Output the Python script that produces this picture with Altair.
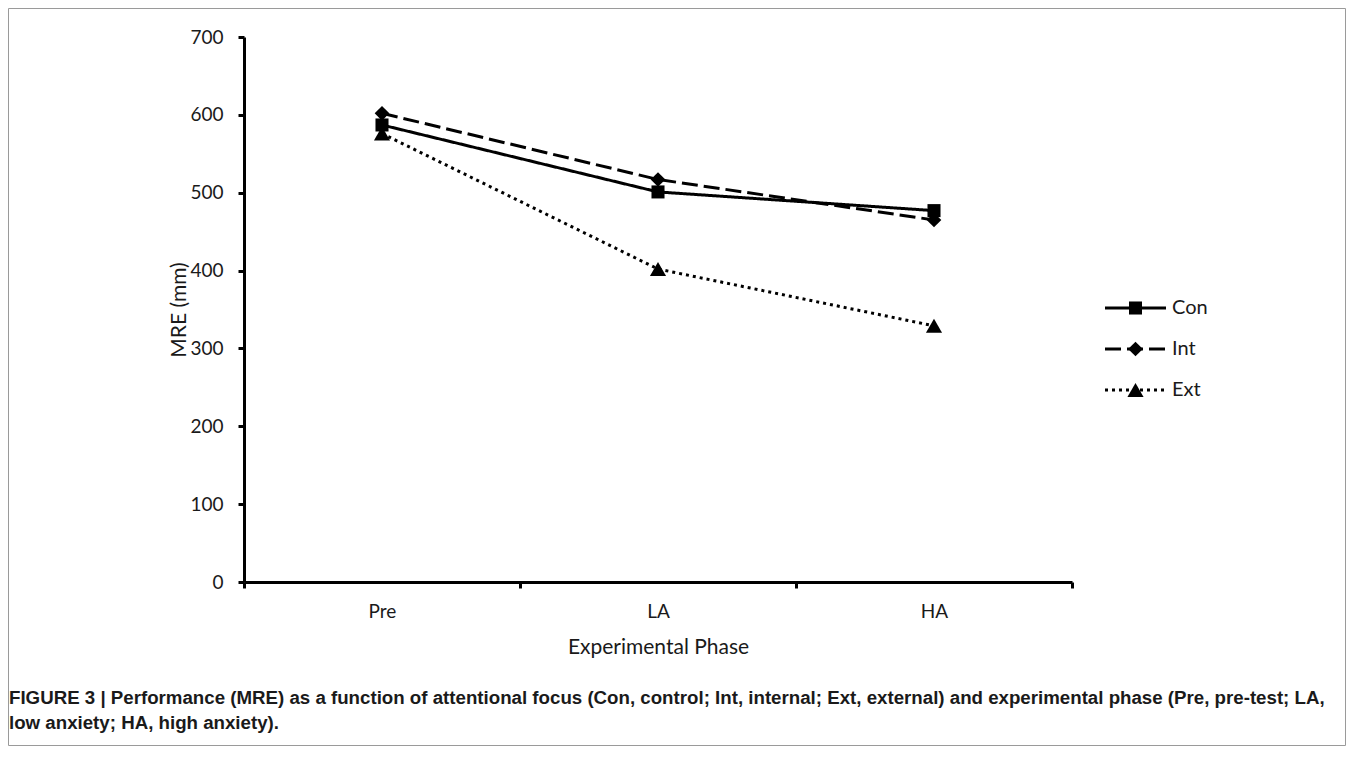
import json
import altair as alt
import pandas as pd

# ---------------- data ----------------
phases = ["Pre", "LA", "HA"]
series = ["Con", "Int", "Ext"]
con_values = [587, 501, 477]
int_values = [602, 517, 465]
ext_values = [576, 402, 329]
y_ticks = [0, 100, 200, 300, 400, 500, 600, 700]
x_title = "Experimental Phase"
y_title = "MRE (mm)"
caption = [
    "FIGURE 3 | Performance (MRE) as a function of attentional focus (Con, control; Int, internal; Ext, external) and experimental phase (Pre, pre-test; LA,",
    "low anxiety; HA, high anxiety).",
]

rows = []
for s, vals in zip(series, [con_values, int_values, ext_values]):
    for i, (p, v) in enumerate(zip(phases, vals)):
        rows.append({"series": s, "phase": p, "pos": i + 0.5, "mre": v})
df = pd.DataFrame(rows)

leg_rows = []
for s in series:
    for lx in (0.0, 0.5, 1.0):
        leg_rows.append({"series": s, "lx": lx})
legend_df = pd.DataFrame(leg_rows)

# ---------------- styles ----------------
FONT = "Lato"
dash_range = [[1, 0], [16, 6], [3, 4]]
shape_range = ["square", "diamond", "triangle-up"]
size_range = [170, 260, 200]

dash = alt.StrokeDash("series:N", scale=alt.Scale(domain=series, range=dash_range), legend=None)
shape = alt.Shape("series:N", scale=alt.Scale(domain=series, range=shape_range), legend=None)
size = alt.Size("series:N", scale=alt.Scale(domain=series, range=size_range), legend=None)

x_values = [i / 2 for i in range(2 * len(phases) + 1)]
label_expr = "datum.value % 1 ? " + json.dumps(phases).replace('"', "'") + "[floor(datum.value)] : ''"

x_enc = alt.X(
    "pos:Q",
    scale=alt.Scale(domain=[0, len(phases)], nice=False, zero=False),
    axis=alt.Axis(
        values=x_values,
        labelExpr=label_expr,
        tickOpacity={"condition": {"test": "datum.value % 1", "value": 0}, "value": 1},
        labelOverlap=False,
        labelFlush=False,
        grid=False,
        title=x_title,
        labelPadding=14,
        titlePadding=15,
    ),
)
y_enc = alt.Y(
    "mre:Q",
    scale=alt.Scale(domain=[0, 700], nice=False),
    axis=alt.Axis(values=y_ticks, grid=False, title=y_title, labelPadding=15, titlePadding=0),
)

lines = alt.Chart().mark_line(color="black", strokeWidth=3, strokeCap="butt").encode(
    x=x_enc, y=y_enc, strokeDash=dash, detail="series:N"
)
points = alt.Chart().mark_point(filled=True, opacity=1, color="black").encode(
    x=x_enc, y=y_enc, shape=shape, size=size
)
main = alt.layer(lines, points, data=df)

lx = alt.X("lx:Q", scale=alt.Scale(domain=[0, 1], range=[861, 922], nice=False, zero=False), axis=None)
ly = alt.Y("series:N", scale=alt.Scale(domain=series, range=[271, 353], padding=0), axis=None)

leg_lines = alt.Chart().mark_line(color="black", strokeWidth=3, strokeCap="butt").transform_filter(
    "datum.lx != 0.5"
).encode(x=lx, y=ly, strokeDash=dash, detail="series:N")
leg_points = alt.Chart().mark_point(filled=True, opacity=1, color="black").transform_filter(
    "datum.lx == 0.5"
).encode(x=lx, y=ly, shape=shape, size=size)
leg_text = alt.Chart().mark_text(
    align="left", baseline="middle", dx=6, fontSize=20, font=FONT, color="#1a1a1a"
).transform_filter("datum.lx == 1").encode(x=lx, y=ly, text="series:N")
legend = alt.layer(leg_lines, leg_points, leg_text, data=legend_df)

# thin grey frame around the whole figure (decoration)
frame = alt.Chart(alt.Data(values=[{}])).mark_rect(
    fillOpacity=0, stroke="#9a9a9a", strokeWidth=1
).encode(
    x=alt.value(-235.5), x2=alt.value(1101.5), y=alt.value(-28.5), y2=alt.value(708.5)
)

chart = (
    alt.layer(main, legend, frame)
    .resolve_scale(x="independent", y="independent")
    .properties(
        width=828,
        height=545,
        padding={"left": 236, "top": 29, "right": 274, "bottom": 170},
        autosize=alt.AutoSizeParams(type="none"),
        title=alt.TitleParams(
            text=caption,
            orient="bottom",
            anchor="start",
            frame="group",
            dx=-235,
            offset=-57,
            fontSize=18.7,
            fontWeight="bold",
            font="Liberation Sans",
            color="#1a1a1a",
            lineHeight=25,
        ),
    )
    .configure_view(stroke=None)
    .configure_axis(
        domainColor="black",
        domainWidth=3,
        tickColor="black",
        tickWidth=3,
        tickSize=6,
        labelFont=FONT,
        labelFontSize=19,
        labelColor="#1a1a1a",
        titleFont=FONT,
        titleFontSize=21,
        titleFontWeight="normal",
        titleColor="#1a1a1a",
    )
)

chart.save("out.html", embed_options={"renderer": "svg", "actions": False})
